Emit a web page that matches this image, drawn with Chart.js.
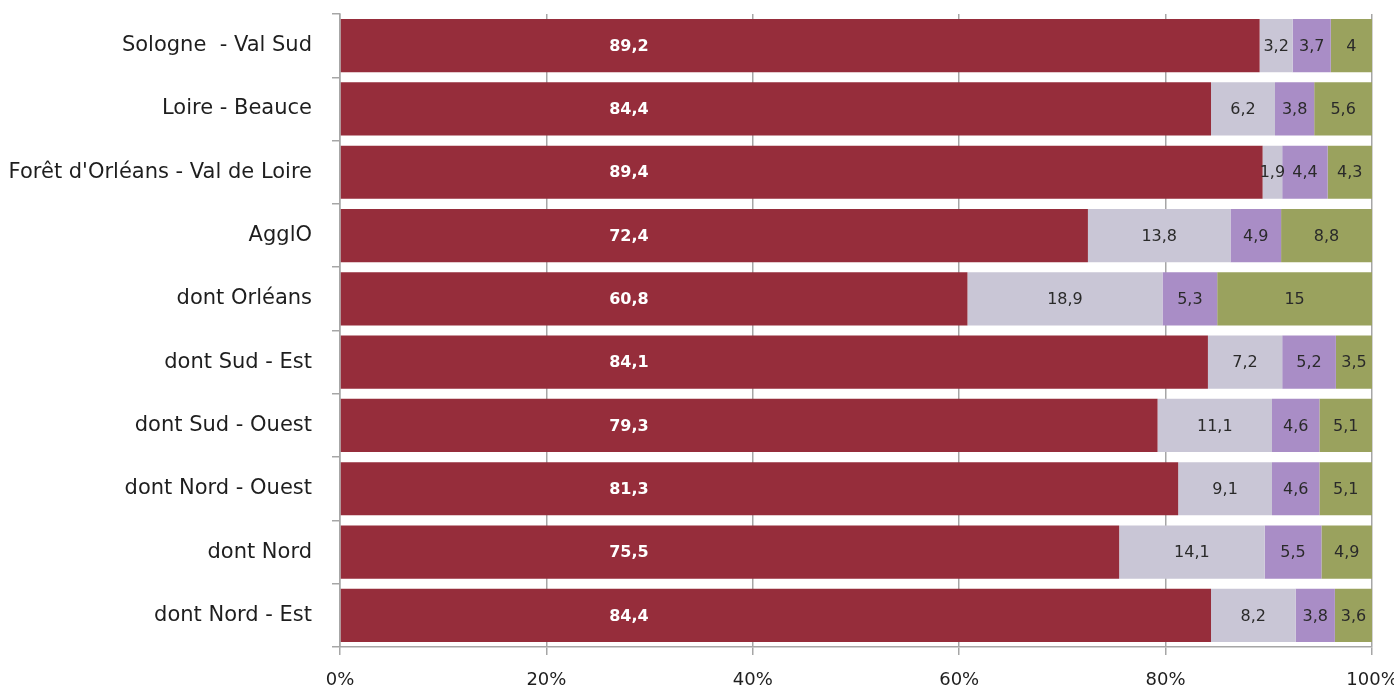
<!DOCTYPE html>
<html>
<head>
<meta charset="utf-8">
<script src="https://cdn.jsdelivr.net/npm/chart.js@4.4.0/dist/chart.umd.min.js"></script>
<style>
  body { margin: 0; background: #fff; }
</style>
</head>
<body>
<canvas id="grafica" width="1394" height="692"></canvas>
<script>
var categorias = ['Sologne  - Val Sud', 'Loire - Beauce', "Forêt d'Orléans - Val de Loire", 'AgglO',
    'dont Orléans', 'dont Sud - Est', 'dont Sud - Ouest', 'dont Nord - Ouest', 'dont Nord', 'dont Nord - Est'];
var serie1 = [89.2, 84.4, 89.4, 72.4, 60.8, 84.1, 79.3, 81.3, 75.5, 84.4];
var serie2 = [3.2, 6.2, 1.9, 13.8, 18.9, 7.2, 11.1, 9.1, 14.1, 8.2];
var serie3 = [3.7, 3.8, 4.4, 4.9, 5.3, 5.2, 4.6, 4.6, 5.5, 3.8];
var serie4 = [4, 5.6, 4.3, 8.8, 15, 3.5, 5.1, 5.1, 4.9, 3.6];
var ticksX = ['0%', '20%', '40%', '60%', '80%', '100%'];

var series = [serie1, serie2, serie3, serie4];
var colores = ['#962d3b', '#c9c6d6', '#a98dc6', '#9aa25e'];
var fuente = "'DejaVu Sans', sans-serif";

// 100% empilé : chaque barre ramenée à son total
function enPourcent(s) {
    return s.map(function (v, i) {
        var total = serie1[i] + serie2[i] + serie3[i] + serie4[i];
        return v / total * 100;
    });
}

var etiquettes = {
    id: 'etiquettes',
    afterDatasetsDraw: function (chart) {
        var ctx = chart.ctx;
        var escalaX = chart.scales.x;
        ctx.save();
        ctx.textAlign = 'center';
        ctx.textBaseline = 'middle';
        chart.data.datasets.forEach(function (ds, d) {
            var meta = chart.getDatasetMeta(d);
            meta.data.forEach(function (barra, i) {
                var texto = String(series[d][i]).replace('.', ',');
                var cx;
                if (d === 0) {
                    ctx.fillStyle = '#ffffff';
                    ctx.font = 'bold 16px ' + fuente;
                    cx = escalaX.getPixelForValue(28);
                } else {
                    ctx.fillStyle = '#2a2a2a';
                    ctx.font = '16px ' + fuente;
                    cx = (barra.x + barra.base) / 2;
                }
                ctx.fillText(texto, cx, barra.y + 1);
            });
        });
        ctx.restore();
    }
};

const ctx = document.getElementById('grafica');
var mychart = new Chart(ctx, {
    type: 'bar',
    data: {
        labels: categorias,
        datasets: series.map(function (s, d) {
            return {
                label: 'serie' + (d + 1),
                data: enPourcent(s),
                backgroundColor: colores[d],
                borderWidth: 0,
                categoryPercentage: 0.84,
                barPercentage: 1
            };
        })
    },
    options: {
        indexAxis: 'y',
        responsive: false,
        animation: false,
        layout: { padding: { top: 14, right: 22, left: 10, bottom: 0 } },
        plugins: {
            legend: { display: false },
            tooltip: { enabled: false }
        },
        scales: {
            x: {
                stacked: true,
                min: 0,
                max: 100,
                grid: {
                    color: '#a6a6a6',
                    lineWidth: 1.5,
                    tickLength: 8,
                    drawOnChartArea: true
                },
                border: { color: '#a6a6a6', width: 1.5 },
                ticks: {
                    stepSize: 20,
                    padding: 15,
                    color: '#1e1e1e',
                    font: { family: fuente, size: 18 },
                    callback: function (v, i) { return ticksX[i]; }
                },
                afterFit: function (scale) {
                    scale.height = 45;
                    scale.paddingLeft = 0;
                    scale.paddingRight = 0;
                }
            },
            y: {
                stacked: true,
                grid: {
                    color: '#a6a6a6',
                    lineWidth: 1.5,
                    tickLength: 8,
                    drawOnChartArea: false
                },
                border: { color: '#a6a6a6', width: 1.5 },
                ticks: {
                    padding: 20,
                    color: '#1e1e1e',
                    font: { family: fuente, size: 21 }
                },
                afterFit: function (scale) {
                    scale.width = 330;
                    scale.paddingTop = 0;
                    scale.paddingBottom = 0;
                }
            }
        }
    },
    plugins: [etiquettes]
});
</script>
</body>
</html>
